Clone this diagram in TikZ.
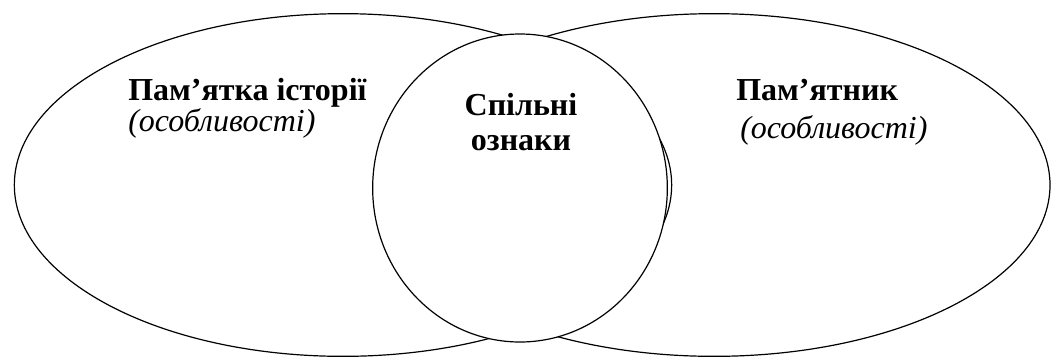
\documentclass[tikz,border=0pt]{standalone}
\usepackage{fontspec}
\setmainfont{Liberation Serif}
\usetikzlibrary{shapes.geometric}

\begin{document}
\begin{tikzpicture}
[x=0.75pt,y=-0.75pt,
 set/.style={draw,ellipse,line width=0.9pt,inner sep=0pt},
 head/.style={font=\bfseries\fontsize{24}{24}\selectfont,inner sep=0pt},
 note/.style={font=\itshape\fontsize{24}{24}\selectfont,inner sep=0pt}]

\useasboundingbox [fill=white] (0,0) rectangle (1056,358);
\clip (0,0) rectangle (1056,358);

% two sets and their overlap
\node [set,minimum width=493pt,minimum height=257pt] (L) at (343,185) {};
\node [set,minimum width=504pt,minimum height=257pt] (R) at (714,185) {};
\node [set,fill=white,minimum width=221pt,minimum height=231pt] (C) at (520,188) {};

\node [head,anchor=base west] (Lhead) at (128,100) {Пам’ятка історії};
\node [note,anchor=base west] (Lnote) at (128,131) {(особливості)};
\node [head,anchor=base west] (Rhead) at (736,100) {Пам’ятник};
\node [note,anchor=base west] (Rnote) at (740,138) {(особливості)};
\node [head,align=center,anchor=base] (Chead) at (521,150) {Спільні\\[2pt]ознаки};
\end{tikzpicture}
\end{document}
